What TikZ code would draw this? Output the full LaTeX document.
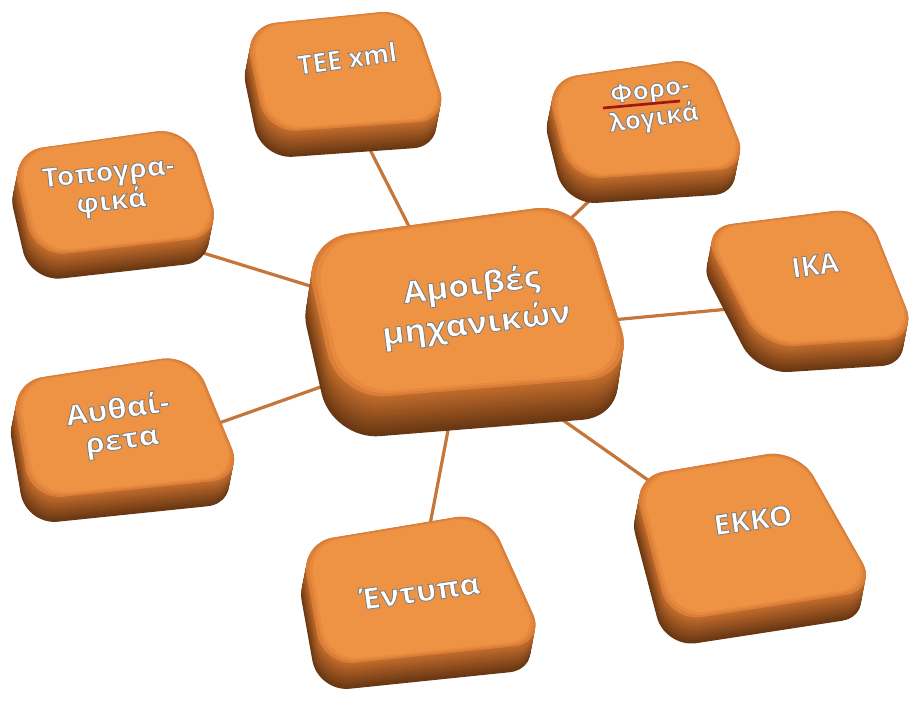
\documentclass[tikz,border=0pt]{standalone}
\usepackage{fontspec}
\setmainfont{Open Sans}
\newfontfamily\lblfont{Open Sans}
\usetikzlibrary{calc}
\definecolor{face}{HTML}{EE9244}
\definecolor{bevel}{HTML}{DA7E38}
\definecolor{sideL}{HTML}{C46D2C}
\definecolor{sideD}{HTML}{683713}
\definecolor{link}{HTML}{C4763B}
\definecolor{spell}{HTML}{A01515}
\tikzset{
  linkline/.style={link, line width=2.4pt},
  lbltext/.style={text=white, align=center, inner sep=0pt},
}
% white letters with a grey edge: fill and stroke text render mode
\newcommand\sh[1]{\special{pdf:code 0.5 0.5 0.5 RG 0.65 w 2 Tr}#1\special{pdf:code 0 Tr}}
% #1 TL, #2 TR, #3 BR, #4 BL, #5 dx, #6 dy, #7 radius, #8 name
\newcommand\tile[8]{%
  \foreach \i in {0,...,16}{%
    \pgfmathtruncatemacro\p{100*\i/16}%
    \pgfmathsetmacro\t{1-\i/16}%
    \fill[sideL!\p!sideD, rounded corners=#7, shift={(\t*#5,\t*#6)}] #1 -- #2 -- #3 -- #4 -- cycle;
  }
  \fill[bevel, rounded corners=#7] #1 -- #2 -- #3 -- #4 -- cycle;
  \coordinate (#8) at ($0.25*#1+0.25*#2+0.25*#3+0.25*#4$);
  \fill[face!60!bevel, rounded corners=#7] ($(#8)!0.975!#1+(0.5,-0.5)$) -- ($(#8)!0.975!#2+(0.5,-0.5)$) -- ($(#8)!0.975!#3+(0.5,-0.5)$) -- ($(#8)!0.975!#4+(0.5,-0.5)$) -- cycle;
  \fill[face, rounded corners=#7] ($(#8)!0.95!#1+(1,-1)$) -- ($(#8)!0.95!#2+(1,-1)$) -- ($(#8)!0.95!#3+(1,-1)$) -- ($(#8)!0.95!#4+(1,-1)$) -- cycle;
}
% #1 name, #2 position, #3 angle, #4 size, #5 baselineskip, #6 xscale, #7 text
\newcommand\lbl[7]{%
  \node[lbltext, rotate=#3, xscale=#6, font=\lblfont\bfseries\fontsize{#4}{#5}\selectfont] (#1) at #2 {#7};
}
\begin{document}
\begin{tikzpicture}[x=0.75pt,y=-0.75pt]
\useasboundingbox (0,0) rectangle (910,718);
% connectors
\coordinate (teeA) at (360,130);   \coordinate (hubT) at (420,248);
\coordinate (foroA) at (610,181);  \coordinate (hubF) at (540,248);
\coordinate (topoA) at (200,252);  \coordinate (hubP) at (320,289);
\coordinate (ikaA) at (740,308);   \coordinate (hubI) at (590,322);
\coordinate (authA) at (205,428);  \coordinate (hubA) at (360,373);
\coordinate (entA) at (428,535);   \coordinate (hubE) at (450,420);
\coordinate (ekkoA) at (665,492);  \coordinate (hubK) at (550,411);
\draw[linkline] (teeA) -- (hubT);
\draw[linkline] (foroA) -- (hubF);
\draw[linkline] (topoA) -- (hubP);
\draw[linkline] (ikaA) -- (hubI);
\draw[linkline] (authA) -- (hubA);
\draw[linkline] (entA) -- (hubE);
\draw[linkline] (ekkoA) -- (hubK);
% tiles
\tile{(244,26)}{(412,9)}{(450,120)}{(266,133)}{-5}{26}{24pt}{tee}
\tile{(545,80)}{(705,57)}{(750,168)}{(570,180)}{-5}{25}{24pt}{foro}
\tile{(11,152)}{(188,127)}{(222,236)}{(35,257)}{-5}{25}{24pt}{topo}
\tile{(700,228)}{(866,207)}{(918,338)}{(762,348)}{-5}{26}{24pt}{ika}
\tile{(302,240)}{(582,202)}{(636,376)}{(338,400)}{-6}{40}{36pt}{hub}
\tile{(11,382)}{(193,354)}{(244,478)}{(31,500)}{-5}{25}{24pt}{auth}
\tile{(301,543)}{(487,512)}{(546,643)}{(323,666)}{-5}{26}{24pt}{ent}
\tile{(632,477)}{(798,449)}{(878,590)}{(670,622)}{-5}{26}{24pt}{ekko}
% labels
\lbl{teeL}{(347,58)}{8}{20}{24}{0.98}{\sh{TEE xml}}
\lbl{foroL}{(652,106)}{8}{19}{21}{1.04}{\sh{Φορο-}\\\sh{λογικά}}
\coordinate (spA) at (603,108); \coordinate (spB) at (680,101);
\draw[spell, line width=2pt] (spA) -- (spB);
\lbl{topoL}{(110,189)}{6}{20}{22}{1.08}{\sh{Τοπογρα-}\\\sh{φικά}}
\lbl{ikaL}{(815,265)}{8}{21}{24}{1.0}{\sh{ΙΚΑ}}
\lbl{hubL}{(474,306)}{7}{23}{29}{1.1}{\sh{Αμοιβές}\\\sh{μηχανικών}}
\lbl{authL}{(120,426)}{8}{21}{23}{1.12}{\sh{Αυθαί-}\\\sh{ρετα}}
\lbl{entL}{(420,591)}{8}{22}{24}{1.08}{\sh{Έντυπα}}
\lbl{ekkoL}{(753,520)}{8}{21}{24}{1.06}{\sh{ΕΚΚΟ}}
\end{tikzpicture}
\end{document}
